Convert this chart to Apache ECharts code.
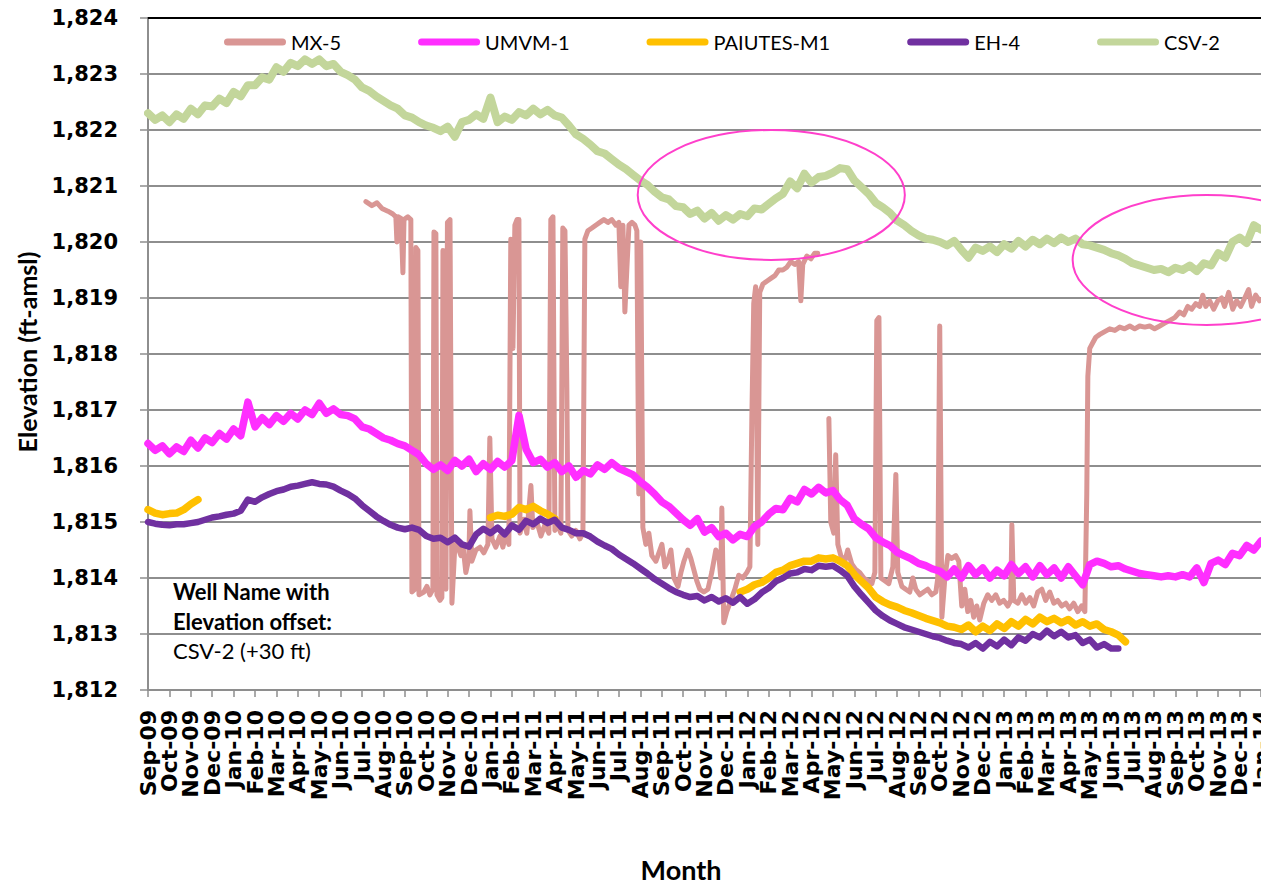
<!DOCTYPE html>
<html><head><meta charset="utf-8">
<script src="https://cdn.jsdelivr.net/npm/echarts@6/dist/echarts.min.js"></script>
<style>html,body{margin:0;padding:0;background:#fff}#c{width:1261px;height:884px}</style>
</head><body><div id="c"></div>
<script>
// ---- tick labels (one per month, Sep-09 .. Jan-14) ----
const monthLabels = ['Sep-09','Oct-09','Nov-09','Dec-09',
 'Jan-10','Feb-10','Mar-10','Apr-10','May-10','Jun-10','Jul-10','Aug-10','Sep-10','Oct-10','Nov-10','Dec-10',
 'Jan-11','Feb-11','Mar-11','Apr-11','May-11','Jun-11','Jul-11','Aug-11','Sep-11','Oct-11','Nov-11','Dec-11',
 'Jan-12','Feb-12','Mar-12','Apr-12','May-12','Jun-12','Jul-12','Aug-12','Sep-12','Oct-12','Nov-12','Dec-12',
 'Jan-13','Feb-13','Mar-13','Apr-13','May-13','Jun-13','Jul-13','Aug-13','Sep-13','Oct-13','Nov-13','Dec-13','Jan-14'];
const seriesNames = ['MX-5','UMVM-1','PAIUTES-M1','EH-4','CSV-2'];
// readings every 1/3 month starting Sep-09 (x in months since Sep-09)
const STEP = 1/3;
const csv2 = [
1822.30,1822.18,1822.26, 1822.14,1822.28,1822.20, 1822.38,1822.28,1822.44, 1822.42,1822.56,1822.48,
1822.68,1822.60,1822.80, 1822.80,1822.94,1822.90, 1823.12,1823.04,1823.20, 1823.14,1823.26,1823.18,
1823.26,1823.14,1823.18, 1823.04,1822.98,1822.90, 1822.76,1822.70,1822.60, 1822.52,1822.44,1822.38,
1822.26,1822.22,1822.14, 1822.08,1822.04,1821.98, 1822.06,1821.88,1822.14, 1822.18,1822.28,1822.20,
1822.58,1822.14,1822.24, 1822.18,1822.32,1822.26, 1822.38,1822.28,1822.36, 1822.26,1822.22,1822.08,
1821.92,1821.84,1821.74, 1821.62,1821.58,1821.48, 1821.38,1821.30,1821.20, 1821.10,1821.02,1820.90,
1820.80,1820.76,1820.64, 1820.62,1820.50,1820.56, 1820.42,1820.52,1820.38, 1820.48,1820.40,1820.50,
1820.46,1820.60,1820.58, 1820.68,1820.78,1820.86, 1821.08,1820.96,1821.22, 1821.06,1821.16,1821.18,
1821.24,1821.32,1821.30, 1821.10,1820.98,1820.86, 1820.70,1820.62,1820.52, 1820.38,1820.30,1820.20,
1820.12,1820.06,1820.04, 1820.00,1819.94,1820.02, 1819.86,1819.72,1819.90, 1819.84,1819.92,1819.82,
1819.96,1819.88,1820.02, 1819.92,1820.04,1819.96, 1820.06,1819.98,1820.08, 1820.00,1820.06,1819.96,
1819.94,1819.90,1819.86, 1819.80,1819.76,1819.70, 1819.62,1819.58,1819.54, 1819.50,1819.52,1819.46,
1819.54,1819.50,1819.58, 1819.48,1819.62,1819.58, 1819.80,1819.72,1820.00, 1820.08,1819.98,1820.30,
1820.22];
const umvm1 = [
1816.40,1816.28,1816.36, 1816.22,1816.34,1816.26, 1816.46,1816.32,1816.50, 1816.42,1816.58,1816.48,
1816.66,1816.54,1817.14, 1816.70,1816.86,1816.74, 1816.90,1816.80,1816.94, 1816.84,1817.00,1816.92,
1817.12,1816.94,1817.02, 1816.92,1816.90,1816.84, 1816.70,1816.66,1816.58, 1816.50,1816.46,1816.40,
1816.36,1816.28,1816.20, 1816.04,1815.94,1816.02, 1815.92,1816.10,1816.00, 1816.12,1815.90,1816.04,
1815.94,1816.08,1815.98, 1816.10,1816.90,1816.30, 1816.06,1816.12,1815.98, 1816.06,1815.90,1816.00,
1815.80,1815.92,1815.86, 1816.02,1815.94,1816.06, 1815.96,1815.90,1815.84, 1815.72,1815.62,1815.50,
1815.36,1815.28,1815.16, 1815.04,1814.94,1815.06, 1814.82,1814.90,1814.74, 1814.80,1814.68,1814.78,
1814.74,1814.92,1815.00, 1815.14,1815.24,1815.22, 1815.42,1815.36,1815.58, 1815.50,1815.62,1815.52,
1815.56,1815.40,1815.30, 1815.06,1814.96,1814.88, 1814.72,1814.64,1814.58, 1814.46,1814.40,1814.34,
1814.26,1814.22,1814.16, 1814.12,1814.02,1814.16, 1814.00,1814.22,1814.06, 1814.18,1814.00,1814.14,
1814.04,1814.24,1814.08, 1814.20,1814.02,1814.22, 1814.06,1814.18,1814.00, 1814.20,1814.04,1813.88,
1814.24,1814.30,1814.26, 1814.20,1814.22,1814.16, 1814.12,1814.08,1814.06, 1814.04,1814.02,1814.04,
1814.02,1814.06,1814.02, 1814.18,1813.92,1814.26, 1814.32,1814.24,1814.44, 1814.40,1814.58,1814.50,
1814.66];
const eh4 = [
1815.00,1814.97,1814.95, 1814.94,1814.96,1814.96, 1814.98,1815.00,1815.04, 1815.08,1815.10,1815.13,
1815.15,1815.20,1815.40, 1815.36,1815.44,1815.50, 1815.55,1815.58,1815.63, 1815.65,1815.68,1815.71,
1815.68,1815.67,1815.63, 1815.56,1815.50,1815.42, 1815.30,1815.20,1815.10, 1815.02,1814.95,1814.90,
1814.87,1814.90,1814.86, 1814.75,1814.70,1814.72, 1814.64,1814.72,1814.60, 1814.56,1814.78,1814.88,
1814.80,1814.90,1814.78, 1814.94,1814.86,1815.02, 1814.96,1815.06,1814.98, 1815.04,1814.90,1814.86,
1814.80,1814.80,1814.74, 1814.65,1814.58,1814.52, 1814.42,1814.34,1814.26, 1814.17,1814.08,1813.98,
1813.90,1813.82,1813.75, 1813.70,1813.66,1813.68, 1813.60,1813.66,1813.58, 1813.64,1813.56,1813.66,
1813.54,1813.62,1813.74, 1813.82,1813.94,1814.00, 1814.08,1814.10,1814.16, 1814.14,1814.22,1814.20,
1814.22,1814.14,1814.04, 1813.85,1813.70,1813.56, 1813.42,1813.32,1813.24, 1813.18,1813.12,1813.08,
1813.04,1813.00,1812.96, 1812.93,1812.88,1812.84, 1812.82,1812.76,1812.84, 1812.74,1812.86,1812.78,
1812.90,1812.80,1812.94, 1812.88,1813.00,1812.94, 1813.06,1812.96,1813.04, 1812.94,1812.98,1812.84,
1812.90,1812.76,1812.82, 1812.74,1812.74];
// PAIUTES-M1 comes in three pieces; each starts at the given month
const paiutesStart = [0, 16, 83/3];
const paiutesA = [1815.22,1815.16,1815.13,1815.15,1815.16,1815.22,1815.32,1815.40];
const paiutesB = [1815.08,1815.12,1815.10,1815.14,1815.26,1815.22,1815.28,1815.20,1815.14,1815.06];
const paiutesC = [1813.75,
1813.80,1813.88,1813.92, 1814.00,1814.10,1814.14, 1814.22,1814.26,1814.30, 1814.30,1814.36,1814.34,
1814.36,1814.30,1814.22, 1814.06,1813.94,1813.82, 1813.66,1813.58,1813.52, 1813.48,1813.42,1813.38,
1813.33,1813.28,1813.24, 1813.20,1813.14,1813.12, 1813.08,1813.16,1813.04, 1813.14,1813.06,1813.18,
1813.10,1813.22,1813.14, 1813.26,1813.18,1813.30, 1813.22,1813.28,1813.20, 1813.26,1813.16,1813.22,
1813.14,1813.18,1813.08, 1813.04,1812.98,1812.86];
// MX-5: [month since Sep-09, elevation]; '-' = no data
const mx5 = [[10.18,1820.72],[10.46,1820.65],[10.70,1820.70],[10.93,1820.60],[11.21,1820.55],[11.44,1820.50],[11.58,1820.45],[11.63,1820.00],[11.68,1820.45],[11.82,1820.42],[11.91,1819.45],[11.96,1820.40],[12.14,1820.45],[12.28,1820.40],[12.33,1813.75],[12.47,1813.80],[12.52,1819.90],[12.61,1819.85],[12.66,1813.70],[12.89,1813.75],[13.03,1813.85],[13.17,1813.70],[13.31,1813.80],[13.36,1820.18],[13.45,1820.15],[13.50,1813.70],[13.64,1813.60],[13.73,1813.65],[13.78,1819.85],[13.85,1818.20],[13.92,1813.80],[13.99,1820.35],[14.11,1820.40],[14.20,1813.55],[14.34,1814.60],[14.48,1814.55],[14.62,1814.40],[14.71,1814.60],[14.85,1814.10],[14.99,1814.35],[15.04,1815.20],[15.13,1814.30],[15.32,1814.50],[15.51,1814.55],[15.69,1814.45],[15.88,1814.60],[15.97,1816.50],[16.07,1814.70],[16.25,1814.55],[16.44,1814.75],[16.58,1814.55],[16.72,1814.80],[16.86,1814.60],[16.95,1820.05],[17.05,1818.10],[17.14,1820.30],[17.24,1820.40],[17.33,1820.40],[17.38,1814.80],[17.56,1815.05],[17.70,1814.80],[17.89,1815.65],[17.98,1814.90],[18.17,1815.00],[18.36,1814.75],[18.54,1814.95],[18.73,1814.80],[18.82,1820.40],[18.92,1820.45],[19.01,1814.85],[19.15,1814.95],[19.29,1814.80],[19.38,1820.25],[19.48,1820.20],[19.57,1817.35],[19.62,1814.85],[19.80,1814.75],[19.99,1814.85],[20.18,1814.70],[20.32,1814.80],[20.41,1820.05],[20.55,1820.20],[20.74,1820.25],[20.92,1820.30],[21.11,1820.35],[21.30,1820.40],[21.49,1820.35],[21.67,1820.40],[21.86,1820.30],[22.00,1820.35],[22.09,1819.20],[22.19,1820.30],[22.28,1818.75],[22.37,1819.50],[22.47,1820.30],[22.61,1820.35],[22.75,1820.30],[22.84,1820.20],[22.93,1815.50],[23.02,1820.00],[23.12,1814.90],[23.26,1814.60],[23.40,1814.80],[23.54,1814.40],[23.73,1814.30],[23.87,1814.45],[24.01,1814.60],[24.15,1814.20],[24.29,1814.30],[24.43,1814.50],[24.57,1814.00],[24.76,1813.85],[24.90,1814.10],[25.04,1814.30],[25.22,1814.50],[25.36,1814.35],[25.50,1814.15],[25.64,1813.95],[25.78,1813.80],[25.97,1813.75],[26.16,1813.80],[26.34,1814.10],[26.53,1814.50],[26.67,1814.40],[26.76,1814.00],[26.81,1815.25],[26.90,1813.20],[27.04,1813.40],[27.23,1813.60],[27.42,1813.80],[27.60,1814.05],[27.79,1814.00],[27.98,1814.10],[28.12,1814.20],[28.21,1816.80],[28.30,1818.90],[28.39,1819.20],[28.49,1814.60],[28.58,1819.10],[28.73,1819.25],[28.91,1819.30],[29.10,1819.35],[29.29,1819.40],[29.47,1819.50],[29.66,1819.50],[29.85,1819.55],[30.03,1819.65],[30.22,1819.60],[30.40,1819.65],[30.50,1818.95],[30.59,1819.60],[30.78,1819.75],[30.97,1819.70],[31.15,1819.80],[31.29,1819.80],[31.55,'-'],[31.81,1816.85],[31.90,1815.00],[32.04,1814.80],[32.13,1816.20],[32.23,1814.60],[32.37,1814.40],[32.56,1814.30],[32.69,1814.50],[32.88,1814.25],[33.07,1814.15],[33.25,1814.10],[33.44,1814.00],[33.63,1813.95],[33.82,1813.90],[33.96,1814.10],[34.05,1818.60],[34.15,1818.65],[34.24,1814.00],[34.42,1813.95],[34.61,1813.90],[34.80,1814.20],[34.94,1815.85],[35.03,1814.10],[35.22,1813.85],[35.40,1813.80],[35.59,1813.75],[35.73,1814.00],[35.87,1813.80],[36.06,1813.70],[36.24,1813.75],[36.43,1813.80],[36.62,1813.70],[36.81,1813.75],[36.90,1814.00],[36.99,1818.50],[37.09,1813.30],[37.23,1814.00],[37.37,1814.40],[37.55,1814.35],[37.74,1814.40],[37.88,1814.30],[38.02,1813.50],[38.16,1813.80],[38.30,1813.40],[38.44,1813.60],[38.58,1813.30],[38.72,1813.50],[38.86,1813.25],[39.05,1813.55],[39.23,1813.70],[39.42,1813.60],[39.61,1813.70],[39.79,1813.55],[39.98,1813.60],[40.17,1813.50],[40.31,1813.60],[40.36,1814.95],[40.45,1813.60],[40.64,1813.55],[40.82,1813.70],[41.01,1813.55],[41.20,1813.65],[41.38,1813.50],[41.57,1813.75],[41.76,1813.80],[41.94,1813.60],[42.13,1813.75],[42.32,1813.55],[42.50,1813.60],[42.69,1813.50],[42.88,1813.55],[43.06,1813.45],[43.25,1813.55],[43.44,1813.40],[43.62,1813.50],[43.77,1813.40],[43.86,1815.50],[43.91,1817.60],[44.00,1818.10],[44.14,1818.20],[44.28,1818.30],[44.47,1818.35],[44.70,1818.40],[44.93,1818.45],[45.17,1818.42],[45.40,1818.48],[45.63,1818.45],[45.87,1818.50],[46.10,1818.45],[46.33,1818.50],[46.57,1818.48],[46.80,1818.50],[47.03,1818.45],[47.27,1818.50],[47.50,1818.55],[47.74,1818.60],[47.97,1818.65],[48.20,1818.75],[48.39,1818.70],[48.58,1818.85],[48.76,1818.80],[48.95,1818.90],[49.14,1818.85],[49.28,1819.05],[49.42,1818.85],[49.60,1818.95],[49.79,1818.80],[49.98,1818.95],[50.16,1819.00],[50.30,1818.85],[50.49,1819.10],[50.68,1818.80],[50.86,1818.95],[51.05,1818.85],[51.24,1819.00],[51.42,1819.15],[51.56,1818.85],[51.75,1819.05],[51.93,1818.95],[52.12,1819.00]];
// annotation ellipses in data units: centre month, centre elevation, half-width (months), half-height (ft)
const ellipseCentreT = [29.12, 49.46];
const ellipseCentreV = [1820.84, 1819.68];
const ellipseHalfT = [6.24, 6.26];
const ellipseHalfV = [1.16, 1.16];

const colors = ['#D99694','#FF2EFF','#FFC000','#7030A0','#C3D69B'];
const widths = [5, 7.5, 7.5, 6.5, 8];

function toPairs(arr, t0) { return arr.map((v, i) => [t0 + i * STEP, v]); }
const paiutesData = [].concat(
  toPairs(paiutesA, paiutesStart[0]), [[paiutesStart[0] + paiutesA.length * STEP, '-']],
  toPairs(paiutesB, paiutesStart[1]), [[paiutesStart[1] + paiutesB.length * STEP, '-']],
  toPairs(paiutesC, paiutesStart[2]));
const dataSets = [mx5, toPairs(umvm1, 0), paiutesData, toPairs(eh4, 0), toPairs(csv2, 0)];

const gridCol = '#8e8e8e';
const chart = echarts.init(document.getElementById('c'), null, {renderer: 'svg', width: 1261, height: 884});
const option = {
  animation: false,
  backgroundColor: '#fff',
  grid: {left: 148, right: 0, top: 18, bottom: 194, containLabel: false, outerBoundsMode: 'none'},
  legend: {
    data: seriesNames, left: 219, top: 27, itemGap: 77, itemWidth: 62, itemHeight: 7,
    icon: 'path://M3.5,0H58.5A3.5,3.5 0 0 1 58.5,7H3.5A3.5,3.5 0 0 1 3.5,0Z',
    textStyle: {fontFamily: 'Lato', fontSize: 20, color: '#000'}
  },
  xAxis: [{
    type: 'value', min: 0, max: 52, interval: 1,
    axisLine: {show: true, onZero: false, lineStyle: {color: gridCol, width: 2}},
    axisTick: {show: true, length: 7, lineStyle: {color: gridCol, width: 1.5}},
    splitLine: {show: false},
    axisLabel: {show: false}
  }, {
    type: 'value', position: 'top', min: 0, max: 52,
    axisLine: {show: true, onZero: false, lineStyle: {color: '#000', width: 2}},
    axisTick: {show: false}, axisLabel: {show: false}, splitLine: {show: false}
  }, {
    // month labels, one under each tick
    type: 'category', position: 'bottom', data: monthLabels, boundaryGap: false,
    axisLine: {show: false}, axisTick: {show: false}, splitLine: {show: false},
    axisLabel: {interval: 0, rotate: 90, margin: 20, fontFamily: 'DejaVu Sans', fontWeight: 'bold', fontSize: 22,
      color: '#000', hideOverlap: false, showMinLabel: true, showMaxLabel: true}
  }],
  yAxis: {
    type: 'value', min: 1812, max: 1824, interval: 1,
    axisLine: {show: true, lineStyle: {color: gridCol, width: 2}},
    axisTick: {show: true, length: 8, lineStyle: {color: gridCol, width: 1.5}},
    splitLine: {show: true, lineStyle: {color: gridCol, width: 2}},
    axisLabel: {margin: 30, fontFamily: 'DejaVu Sans', fontWeight: 'bold', fontSize: 21, color: '#000',
      formatter: v => String(v).replace(/^(\d)(\d{3})$/, '$1,$2')}
  },
  series: seriesNames.map((name, k) => ({
    name, type: 'line', data: dataSets[k], xAxisIndex: 0, yAxisIndex: 0,
    showSymbol: false, symbol: 'none', connectNulls: false, z: 2 + k,
    color: colors[k], itemStyle: {color: colors[k]},
    lineStyle: {color: colors[k], width: widths[k], cap: 'round', join: 'round'}
  }))
};
chart.setOption(option);

const textStyleBase = {fill: '#000'};
const graphics = [
  {type: 'text', x: 681, y: 869, style: Object.assign({text: 'Month', font: 'bold 27px Lato', align: 'center', verticalAlign: 'middle'}, textStyleBase)},
  {type: 'text', x: 27, y: 352, rotation: Math.PI / 2, style: Object.assign({text: 'Elevation (ft-amsl)', font: 'bold 25px Lato', align: 'center', verticalAlign: 'middle'}, textStyleBase)},
  {type: 'text', x: 173, y: 591, style: Object.assign({text: 'Well Name with', font: 'bold 22px Lato', align: 'left', verticalAlign: 'middle'}, textStyleBase)},
  {type: 'text', x: 173, y: 621, style: Object.assign({text: 'Elevation offset:', font: 'bold 22px Lato', align: 'left', verticalAlign: 'middle'}, textStyleBase)},
  {type: 'text', x: 173, y: 650, style: Object.assign({text: 'CSV-2 (+30 ft)', font: '22px Lato', align: 'left', verticalAlign: 'middle'}, textStyleBase)}
];
ellipseCentreT.forEach((t, i) => {
  const c = chart.convertToPixel({xAxisIndex: 0, yAxisIndex: 0}, [t, ellipseCentreV[i]]);
  const r = chart.convertToPixel({xAxisIndex: 0, yAxisIndex: 0}, [t + ellipseHalfT[i], ellipseCentreV[i] + ellipseHalfV[i]]);
  graphics.push({type: 'ellipse', z: 100, shape: {cx: c[0], cy: c[1], rx: r[0] - c[0], ry: c[1] - r[1]},
    style: {fill: 'none', stroke: '#FF3FCB', lineWidth: 2}});
});
chart.setOption({graphic: graphics});
</script>
</body></html>
